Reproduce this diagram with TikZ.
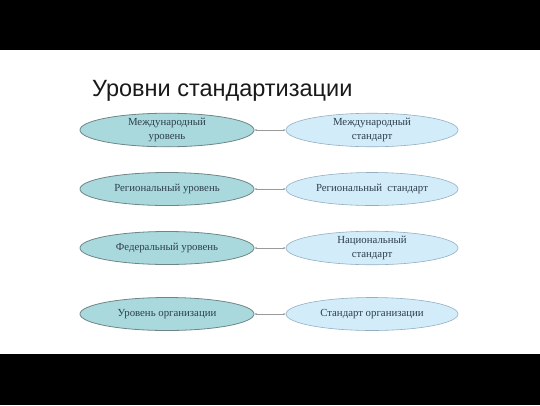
\documentclass[tikz,border=0pt]{standalone}
\usepackage{fontspec}
\setmainfont{Liberation Serif}
\newfontfamily\titlefont{Liberation Sans}
\usetikzlibrary{shapes.geometric,arrows.meta}
\definecolor{lfill}{HTML}{A9D9DC}
\definecolor{ldraw}{HTML}{6E8688}
\definecolor{rfill}{HTML}{D2ECFA}
\definecolor{rdraw}{HTML}{93AFC2}
\definecolor{txt}{HTML}{2E3E4C}
\begin{document}
\begin{tikzpicture}[x=1pt,y=-1pt,
  lev/.style={ellipse, fill=lfill, draw=ldraw, line width=0.8pt, minimum width=174pt, minimum height=33pt, inner sep=0pt, align=center, text=txt, font=\fontsize{10.8}{14}\selectfont},
  std/.style={ellipse, fill=rfill, draw=rdraw, line width=0.6pt, minimum width=172pt, minimum height=33pt, inner sep=0pt, align=center, text=txt, font=\fontsize{10.8}{14}\selectfont},
  link/.style={draw=gray!80, line width=0.6pt, {Stealth[length=2.5pt,width=2pt]}-{Stealth[length=2.5pt,width=2pt]}}]
\useasboundingbox (0,0) rectangle (540,405);
\fill[black] (0,0) rectangle (540,50);
\fill[black] (0,354) rectangle (540,405);
\node[anchor=base west, inner sep=0pt, font=\titlefont\fontsize{23.5}{26}\selectfont, text=black!90] (title) at (92,96) {Уровни стандартизации};
\node[lev] (l1) at (167,130) {Международный\\уровень};
\node[lev] (l2) at (167,189) {Региональный уровень};
\node[lev] (l3) at (167,248) {Федеральный уровень};
\node[lev] (l4) at (167,314) {Уровень организации};
\node[std] (r1) at (372,130) {Международный\\стандарт};
\node[std] (r2) at (372,189) {Региональный\ \ стандарт};
\node[std] (r3) at (372,248) {Национальный\\стандарт};
\node[std] (r4) at (372,314) {Стандарт организации};
\draw[link] (l1) -- (r1);
\draw[link] (l2) -- (r2);
\draw[link] (l3) -- (r3);
\draw[link] (l4) -- (r4);
\end{tikzpicture}
\end{document}
